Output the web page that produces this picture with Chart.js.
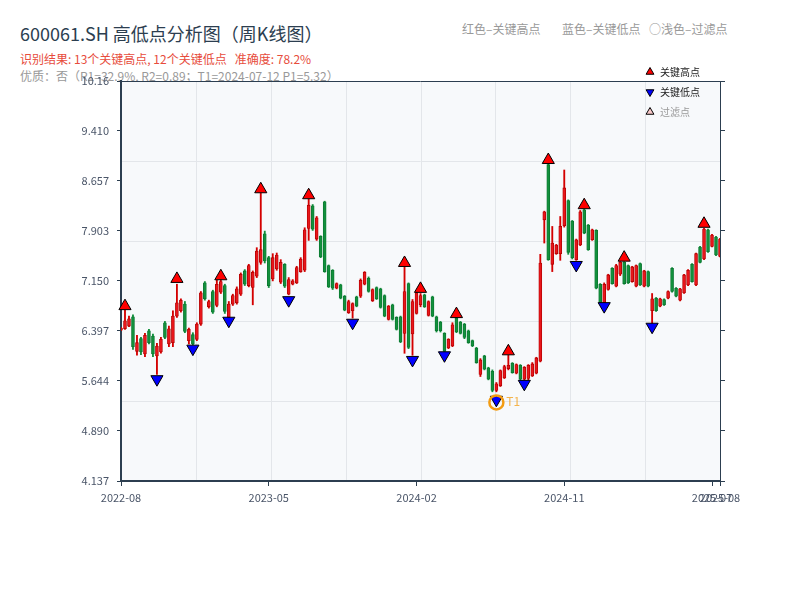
<!DOCTYPE html>
<html>
<head>
<meta charset="utf-8">
<title>600061.SH 高低点分析图（周K线图）</title>
<script src="https://cdn.jsdelivr.net/npm/chart.js@4.4.0/dist/chart.umd.min.js"></script>
<style>
  body { margin: 0; background: #fff; }
  #wrap { position: relative; width: 800px; height: 600px; font-family: "Noto Sans CJK SC", "Noto Sans", sans-serif; }
  #wrap canvas { position: absolute; left: 0; top: 0; z-index: 1; }
  .txt { position: absolute; white-space: nowrap; line-height: 1; z-index: 0; }
  #title { left: 20px; top: 24px; font-size: 18px; color: #2c3e50; }
  #result { left: 20px; top: 53px; font-size: 12px; color: #e74c3c; }
  #quality { left: 20px; top: 70px; font-size: 12px; color: #999; }
  .note { top: 23px; font-size: 12px; color: #999; }
</style>
</head>
<body>
<div id="wrap">
  <div class="txt" id="title">600061.SH 高低点分析图（周K线图）</div>
  <div class="txt" id="result">识别结果: 13个关键高点, 12个关键低点&nbsp;&nbsp;&nbsp;准确度: 78.2%</div>
  <div class="txt" id="quality">优质：否（R1=32.9%, R2=0.89；T1=2024-07-12 P1=5.32）</div>
  <div class="txt note" style="left:462px">红色–关键高点</div>
  <div class="txt note" style="left:562px">蓝色–关键低点</div>
  <div class="txt note" style="left:649px">○浅色–过滤点</div>
  <canvas id="kline" width="800" height="600"></canvas>
</div>
<script>
// weekly bars (Friday dates), weeks with no trading left out
const holidayWeeks = ['2022-10-07', '2023-01-27', '2023-10-06', '2024-02-16'];
const weeks = [];
let d = new Date(Date.UTC(2022, 7, 26));
while (weeks.length < 151) {
    const s = d.toISOString().slice(0, 10);
    if (!holidayWeeks.includes(s)) weeks.push(s);
    d.setUTCDate(d.getUTCDate() + 7);
}

const open = [
    6.41, 6.43, 6.47, 6.61, 6.09, 6.28, 6.05, 6.40, 6.32, 6.02,
    6.08, 6.52, 6.20, 6.22, 6.62, 6.70, 6.80, 6.25, 6.34, 6.27,
    6.50, 7.12, 6.76, 6.99, 6.78, 6.98, 7.08, 6.60, 6.80, 6.82,
    6.95, 7.30, 7.08, 7.05, 7.22, 7.43, 7.86, 7.50, 7.18, 7.33,
    7.13, 7.40, 6.95, 7.10, 7.12, 7.29, 7.31, 7.94, 8.28, 7.78,
    7.82, 8.34, 7.38, 7.31, 7.04, 7.09, 6.92, 6.67, 6.70, 6.91,
    6.92, 7.10, 7.19, 6.85, 7.05, 7.03, 6.93, 6.57, 6.79, 6.60,
    6.61, 6.36, 7.11, 6.35, 6.66, 6.79, 6.94, 6.63, 6.91, 6.61,
    6.53, 6.36, 6.14, 6.17, 6.59, 6.53, 6.50, 6.40, 6.25, 6.14,
    5.74, 6.02, 5.84, 5.79, 5.50, 5.57, 5.69, 5.83, 5.91, 5.76,
    5.88, 5.67, 5.68, 5.72, 5.76, 5.94, 8.07, 8.90, 7.40, 7.56,
    7.56, 7.98, 8.36, 8.05, 7.47, 7.69, 8.22, 7.99, 7.77, 7.91,
    7.10, 6.82, 7.02, 7.34, 7.07, 7.25, 7.43, 7.38, 7.14, 7.07,
    7.41, 7.07, 7.29, 6.70, 6.89, 6.77, 6.87, 6.89, 7.34, 7.04,
    6.86, 6.97, 7.09, 7.40, 7.09, 7.66, 7.48, 7.92, 7.67, 7.81,
    7.52
];
const high = [
    6.45, 6.71, 6.62, 6.64, 6.33, 6.30, 6.36, 6.42, 6.35, 6.21,
    6.30, 6.54, 6.47, 6.70, 7.10, 6.88, 6.84, 6.44, 6.37, 6.52,
    6.99, 7.14, 6.86, 7.01, 7.16, 7.17, 7.10, 6.84, 6.95, 7.06,
    7.27, 7.32, 7.40, 7.30, 7.65, 8.47, 7.90, 7.52, 7.56, 7.57,
    7.47, 7.41, 7.20, 7.17, 7.37, 7.50, 7.95, 8.38, 8.30, 8.12,
    7.83, 8.35, 7.39, 7.32, 7.12, 7.10, 6.93, 6.86, 6.82, 6.92,
    7.18, 7.29, 7.21, 7.03, 7.06, 7.04, 6.94, 6.78, 6.80, 6.61,
    6.62, 7.36, 7.12, 6.87, 6.99, 6.96, 6.95, 6.85, 6.92, 6.62,
    6.54, 6.37, 6.28, 6.52, 6.61, 6.54, 6.51, 6.41, 6.26, 6.15,
    5.98, 6.03, 5.85, 5.81, 5.62, 5.81, 5.88, 6.03, 5.92, 5.90,
    5.89, 5.86, 5.89, 5.92, 6.00, 7.55, 8.20, 8.92, 7.97, 7.70,
    8.12, 8.82, 8.37, 8.06, 7.78, 8.21, 8.23, 8.00, 7.93, 7.92,
    7.11, 7.12, 7.25, 7.35, 7.40, 7.44, 7.44, 7.39, 7.37, 7.39,
    7.42, 7.31, 7.30, 6.96, 6.90, 6.89, 6.88, 7.00, 7.35, 7.05,
    7.04, 7.25, 7.32, 7.41, 7.57, 7.67, 7.94, 7.93, 7.85, 7.82,
    7.79
];
const low = [
    6.40, 6.42, 6.46, 6.12, 6.03, 6.04, 6.01, 6.20, 6.01, 5.74,
    6.06, 6.28, 6.16, 6.16, 6.60, 6.68, 6.37, 6.20, 6.19, 6.25,
    6.48, 6.86, 6.74, 6.66, 6.76, 6.96, 6.66, 6.57, 6.78, 6.80,
    6.93, 7.08, 7.06, 6.79, 7.20, 7.40, 7.42, 7.05, 7.15, 7.31,
    7.11, 7.05, 6.94, 7.09, 7.11, 7.28, 7.29, 7.76, 7.91, 7.76,
    7.50, 7.28, 7.05, 7.02, 7.03, 6.88, 6.70, 6.66, 6.59, 6.76,
    6.90, 7.09, 6.98, 6.84, 6.87, 6.74, 6.61, 6.56, 6.56, 6.41,
    6.22, 6.06, 6.13, 6.03, 6.65, 6.76, 6.75, 6.62, 6.61, 6.38,
    6.38, 6.08, 6.13, 6.16, 6.37, 6.35, 6.28, 6.21, 6.16, 5.91,
    5.71, 5.81, 5.66, 5.48, 5.48, 5.56, 5.68, 5.81, 5.76, 5.75,
    5.66, 5.66, 5.66, 5.71, 5.75, 5.93, 7.72, 7.46, 7.29, 7.55,
    7.46, 7.96, 7.55, 7.48, 7.46, 7.68, 7.86, 7.61, 7.76, 7.03,
    6.81, 6.81, 7.01, 7.10, 7.06, 7.23, 7.10, 7.11, 7.13, 7.06,
    7.08, 7.06, 7.06, 6.51, 6.69, 6.76, 6.78, 6.88, 6.98, 6.91,
    6.85, 6.96, 7.08, 7.13, 7.08, 7.42, 7.47, 7.58, 7.66, 7.53,
    7.51
];
const close = [
    6.44, 6.55, 6.58, 6.16, 6.22, 6.08, 6.33, 6.22, 6.05, 6.17,
    6.27, 6.30, 6.43, 6.62, 6.82, 6.86, 6.39, 6.42, 6.20, 6.50,
    6.97, 6.88, 6.84, 6.68, 7.10, 7.14, 6.69, 6.80, 6.93, 7.03,
    7.25, 7.10, 7.38, 7.28, 7.60, 7.62, 7.45, 7.08, 7.50, 7.54,
    7.43, 7.07, 7.17, 7.15, 7.35, 7.48, 7.92, 8.29, 7.93, 8.10,
    7.51, 7.29, 7.06, 7.04, 7.11, 6.89, 6.71, 6.84, 6.81, 6.77,
    7.16, 7.28, 6.99, 7.02, 6.88, 6.75, 6.62, 6.77, 6.57, 6.42,
    6.23, 6.99, 6.15, 6.84, 6.97, 6.93, 6.76, 6.84, 6.62, 6.40,
    6.40, 6.09, 6.27, 6.49, 6.38, 6.36, 6.30, 6.22, 6.17, 5.92,
    5.96, 5.82, 5.67, 5.50, 5.60, 5.80, 5.86, 5.88, 5.77, 5.89,
    5.67, 5.85, 5.88, 5.90, 5.99, 7.42, 8.19, 7.47, 7.72, 7.69,
    7.97, 8.55, 7.58, 7.50, 7.77, 8.19, 7.87, 7.62, 7.92, 7.04,
    6.82, 7.10, 7.24, 7.11, 7.38, 7.43, 7.11, 7.12, 7.36, 7.38,
    7.09, 7.30, 7.07, 6.88, 6.70, 6.88, 6.79, 6.99, 6.99, 6.92,
    7.03, 7.24, 7.31, 7.14, 7.56, 7.43, 7.93, 7.59, 7.84, 7.54,
    7.78
];

// key points (week index, marker level)
const hiIdx = [1, 14, 25, 35, 47, 71, 75, 84, 97, 107, 116, 126, 146];
const hiVal = [6.77, 7.18, 7.22, 8.53, 8.44, 7.42, 7.03, 6.65, 6.09, 8.97, 8.29, 7.50, 8.01];
const loIdx = [9, 18, 27, 42, 58, 73, 81, 94, 101, 114, 121, 133];
const loVal = [5.67, 6.13, 6.55, 6.86, 6.52, 5.96, 6.03, 5.36, 5.60, 7.39, 6.77, 6.46];
const t1Idx = 94;
const t1Price = 5.32;

const yTickLabels = ['4.137', '4.890', '5.644', '6.397', '7.150', '7.903', '8.657', '9.410', '10.16'];
const yTickVals = yTickLabels.map(Number);
const xTickIdx = [0, 37, 74, 111, 148, 150];

const RED = '#e8161b', RED_EDGE = '#b10000';
const GREEN = '#12903c', GREEN_EDGE = '#0b7530';
const AXIS = '#2c3e50';
const up = close.map((c, i) => c >= open[i]);

Chart.defaults.font.family = '"Noto Sans CJK SC", "Noto Sans", sans-serif';

function tri(ctx, x, y, r, down) {
    const s = down ? -1 : 1;
    ctx.beginPath();
    ctx.moveTo(x, y - s * r);
    ctx.lineTo(x + r * 0.866, y + s * r / 2);
    ctx.lineTo(x - r * 0.866, y + s * r / 2);
    ctx.closePath();
    ctx.fill();
    ctx.stroke();
}

const plotDecor = {
    id: 'plotDecor',
    beforeDraw(chart) {
        const { ctx, chartArea: a } = chart;
        ctx.save();
        ctx.fillStyle = '#f7f9fb';
        ctx.fillRect(a.left, a.top, a.width, a.height);
        ctx.strokeStyle = '#e3e6ea';
        ctx.lineWidth = 1;
        ctx.beginPath();
        for (let k = 1; k < 8; k++) {
            const x = Math.round(a.left + a.width * k / 8) + 0.5;
            ctx.moveTo(x, a.top);
            ctx.lineTo(x, a.bottom);
        }
        for (let k = 1; k < 5; k++) {
            const y = Math.round(a.top + a.height * k / 5) + 0.5;
            ctx.moveTo(a.left, y);
            ctx.lineTo(a.right, y);
        }
        ctx.stroke();
        ctx.restore();
    },
    afterDraw(chart) {
        const { ctx, chartArea: a, scales } = chart;
        ctx.save();
        // top frame line
        ctx.strokeStyle = AXIS;
        ctx.lineWidth = 1;
        ctx.beginPath();
        ctx.moveTo(a.left, a.top + 0.5);
        ctx.lineTo(a.right, a.top + 0.5);
        ctx.stroke();

        // T1 label
        const tx = scales.x.getPixelForValue(t1Idx);
        const ty = scales.y.getPixelForValue(t1Price);
        ctx.fillStyle = 'rgba(243, 156, 18, 0.75)';
        ctx.font = '12px "Noto Sans CJK SC", "Noto Sans", sans-serif';
        ctx.textBaseline = 'middle';
        ctx.fillText('T1', tx + 10, ty - 1);

        // marker legend
        const items = [
            { text: '关键高点', fill: '#ff0000', down: false, color: '#222' },
            { text: '关键低点', fill: '#0000ff', down: true, color: '#222' },
            { text: '过滤点', fill: '#f8c8c8', down: false, color: '#999' }
        ];
        ctx.font = '10px "Noto Sans CJK SC", "Noto Sans", sans-serif';
        ctx.lineWidth = 1;
        items.forEach((it, i) => {
            const y = 72 + i * 20;
            ctx.fillStyle = it.fill;
            ctx.strokeStyle = '#000';
            tri(ctx, 650, y, 4.5, it.down);
            ctx.fillStyle = it.color;
            ctx.fillText(it.text, 660, y);
        });
        ctx.restore();
    }
};

new Chart(document.getElementById('kline'), {
    type: 'bar',
    data: {
        labels: weeks,
        datasets: [
            {
                type: 'scatter',
                label: 'T1',
                data: [{ x: weeks[t1Idx], y: t1Price }],
                pointStyle: 'circle',
                pointRadius: 7,
                pointBackgroundColor: 'rgba(0,0,0,0)',
                pointBorderColor: '#f39c12',
                pointBorderWidth: 2.5,
                order: 0
            },
            {
                type: 'scatter',
                label: '关键高点',
                data: hiIdx.map((i, k) => ({ x: weeks[i], y: hiVal[k] })),
                pointStyle: 'triangle',
                pointRadius: 7,
                pointBackgroundColor: '#ff0000',
                pointBorderColor: '#000',
                pointBorderWidth: 1,
                order: 1
            },
            {
                type: 'scatter',
                label: '关键低点',
                data: loIdx.map((i, k) => ({ x: weeks[i], y: loVal[k] })),
                pointStyle: 'triangle',
                pointRotation: 180,
                pointRadius: 7,
                pointBackgroundColor: '#0000ff',
                pointBorderColor: '#000',
                pointBorderWidth: 1,
                order: 1
            },
            {
                label: '实体',
                data: open.map((o, i) => [o, close[i]]),
                backgroundColor: up.map(u => u ? RED : GREEN),
                borderColor: up.map(u => u ? RED_EDGE : GREEN_EDGE),
                borderWidth: 0.8,
                borderSkipped: false,
                barThickness: 3,
                grouped: false,
                order: 2
            },
            {
                label: '影线',
                data: low.map((l, i) => [l, high[i]]),
                backgroundColor: up.map(u => u ? '#d40000' : GREEN),
                barThickness: 1.2,
                grouped: false,
                order: 3
            }
        ]
    },
    options: {
        responsive: false,
        animation: false,
        events: [],
        layout: { padding: { top: 81, left: 0, right: 0, bottom: 0 } },
        plugins: {
            legend: { display: false },
            tooltip: { enabled: false }
        },
        scales: {
            x: {
                type: 'category',
                offset: false,
                grid: { offset: false, drawOnChartArea: false, tickLength: 5, color: AXIS },
                border: { color: AXIS, width: 2 },
                ticks: {
                    autoSkip: false,
                    maxRotation: 0,
                    color: '#4a5568',
                    font: { size: 11 },
                    padding: 5,
                    callback: v => weeks[v].slice(0, 7)
                },
                afterBuildTicks: s => { s.ticks = xTickIdx.map(v => ({ value: v })); },
                afterFit: s => { s.height = 119; }
            },
            y: {
                position: 'left',
                min: yTickVals[0],
                max: yTickVals[yTickVals.length - 1],
                grid: { drawOnChartArea: false, tickLength: 4, color: AXIS },
                border: { color: AXIS, width: 2 },
                ticks: {
                    color: '#4a5568',
                    font: { size: 11 },
                    padding: 8,
                    callback: (v, i) => yTickLabels[i]
                },
                afterBuildTicks: s => { s.ticks = yTickVals.map(v => ({ value: v })); },
                afterFit: s => { s.width = 121; }
            },
            y2: {
                position: 'right',
                min: yTickVals[0],
                max: yTickVals[yTickVals.length - 1],
                grid: { drawOnChartArea: false, tickLength: 5, color: AXIS },
                border: { color: AXIS, width: 1 },
                ticks: { display: false },
                afterBuildTicks: s => { s.ticks = yTickVals.map(v => ({ value: v })); },
                afterFit: s => { s.width = 80; }
            }
        }
    },
    plugins: [plotDecor]
});
</script>
</body>
</html>
